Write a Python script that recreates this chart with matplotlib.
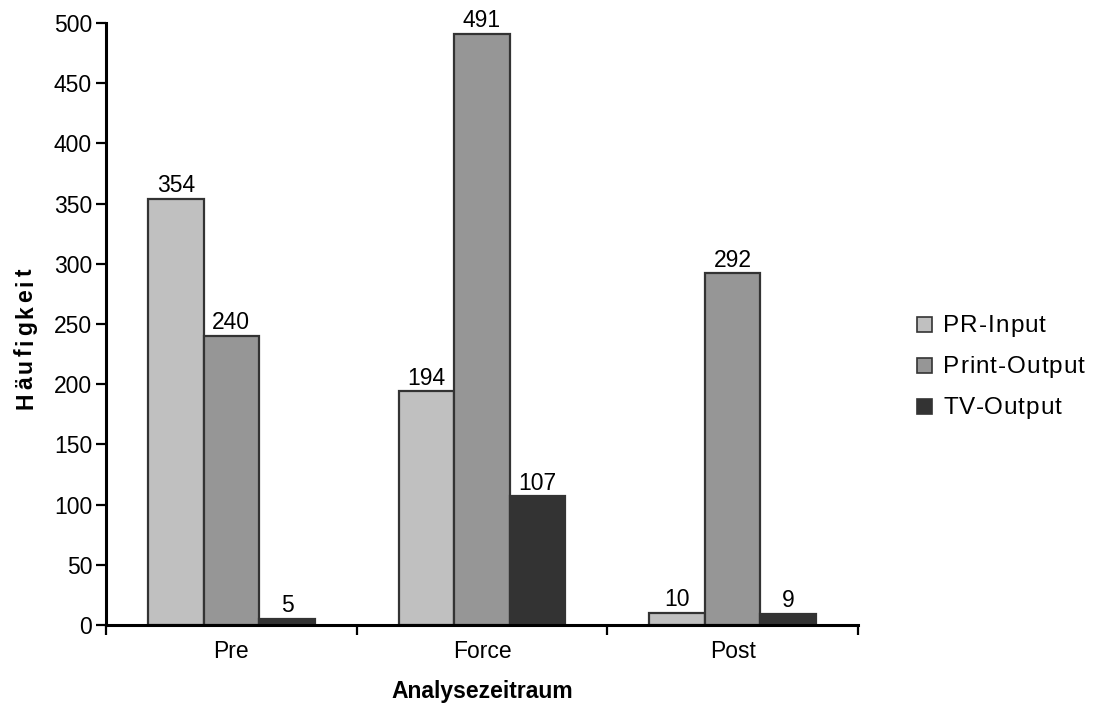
import matplotlib
matplotlib.use("Agg")
import matplotlib.pyplot as plt
from matplotlib.transforms import IdentityTransform
from matplotlib.patches import Rectangle
from matplotlib.font_manager import FontProperties
import numpy as np

plt.rcParams['font.family'] = ['Liberation Sans', 'DejaVu Sans']

categories = ["Pre", "Force", "Post"]
series_names = ["PR-Input", "Print-Output", "TV-Output"]
pr_input = [354, 194, 10]
print_output = [240, 491, 292]
tv_output = [5, 107, 9]
colors = ["#C0C0C0", "#969696", "#333333"]

W, H = 1101, 704
fig = plt.figure(figsize=(W / 100, H / 100), dpi=100)
ax = fig.add_axes([106 / W, 1 - 625 / H, (858 - 106) / W, (625 - 23) / H])
renderer = fig.canvas.get_renderer()


def text_width(s, fp):
    t = fig.text(0, 0, s, fontproperties=fp)
    w = t.get_window_extent(renderer).width
    t.remove()
    return w


def spaced_text(s, x, y, fp, spacing, rotation=0, center=True):
    """Draw text letter by letter (pixel coords, baseline anchored) with extra tracking."""
    advances = [text_width(s[:i], fp) if i else 0.0 for i in range(len(s))]
    total = text_width(s, fp) + spacing * (len(s) - 1)
    start = -total / 2 if center else 0.0
    for i, ch in enumerate(s):
        off = start + advances[i] + i * spacing
        px, py = (x + off, y) if rotation == 0 else (x, y + off)
        fig.text(px, py, ch, fontproperties=fp, transform=IdentityTransform(),
                 rotation=rotation, rotation_mode="anchor", ha="left", va="baseline")


x = np.arange(len(categories))
width = 0.222
for i, (vals, col) in enumerate(zip([pr_input, print_output, tv_output], colors)):
    pos = x + (i - 1) * width
    bars = ax.bar(pos, vals, width, color=col, edgecolor="#333333", linewidth=1.6, zorder=2)
    for b, v in zip(bars, vals):
        ax.annotate(str(v), (b.get_x() + b.get_width() / 2, v), xytext=(0, 1.2),
                    textcoords="offset points", ha="center", va="bottom", fontsize=16.5)

ax.set_xlim(-0.5, 2.5)
ax.set_ylim(0, 500)
ax.set_yticks(np.arange(0, 501, 50))
ax.tick_params(axis="y", labelsize=16.5, width=1.6, length=7, pad=3, direction="out")
ax.set_xticks(x)
ax.set_xticklabels(categories, fontsize=16.5)
ax.tick_params(axis="x", length=0, pad=10.5)
ax.set_xticks([-0.5, 0.5, 1.5, 2.5], minor=True)
ax.tick_params(axis="x", which="minor", length=7.5, width=1.6, direction="out")

for s in ["top", "right"]:
    ax.spines[s].set_visible(False)
for s in ["left", "bottom"]:
    ax.spines[s].set_linewidth(2.2)

# Axis titles
bold = FontProperties(family=['Liberation Sans', 'DejaVu Sans'], weight="bold", size=16.5)
fig.text(482, H - 698, "Analysezeitraum", fontproperties=bold, transform=IdentityTransform(),
         ha="center", va="baseline")
spaced_text("Häufigkeit", 32, H - 339, bold, 3.3, rotation=90)

# Legend
leg_fp = FontProperties(family=['Liberation Sans', 'DejaVu Sans'], size=17.5)
for i, (name, col) in enumerate(zip(series_names, colors)):
    base = H - (332 + 41 * i)
    fig.patches.append(Rectangle((917, base + 0.5), 15, 15, transform=IdentityTransform(),
                                 facecolor=col, edgecolor="#333333", linewidth=1.2))
    spaced_text(name, 943, base, leg_fp, 1.0, center=False)

fig.savefig("out.png", dpi=100)
